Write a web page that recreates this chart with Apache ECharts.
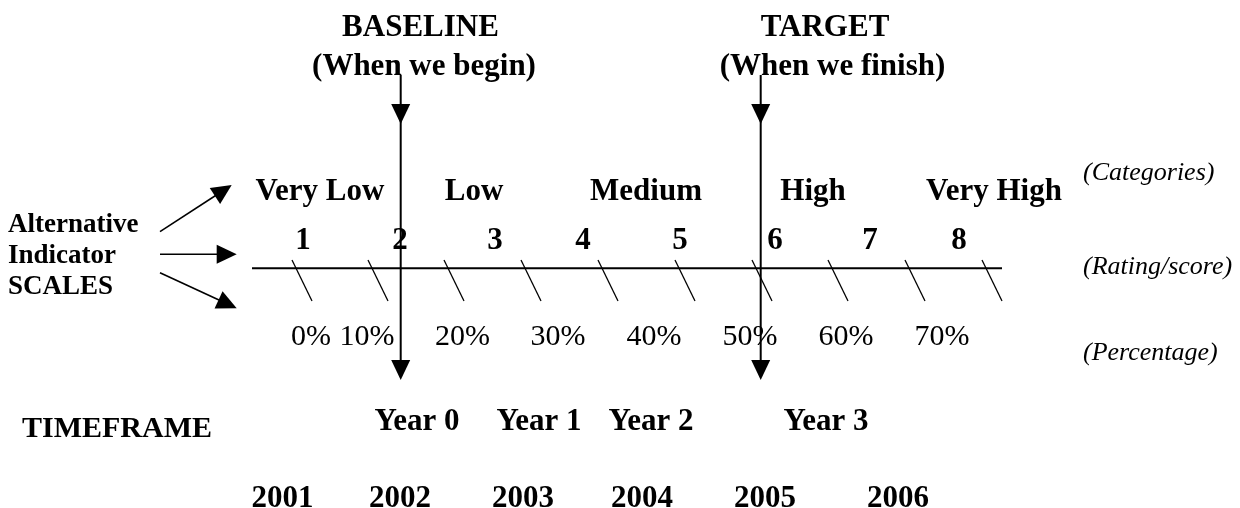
<!DOCTYPE html>
<html><head><meta charset="utf-8">
<script src="https://cdn.jsdelivr.net/npm/echarts@6/dist/echarts.min.js"></script>
<style>html,body{margin:0;padding:0;background:#fff}#c{width:1240px;height:508px}</style>
</head><body><div id="c"></div>
<script>
// ---- content ----
const milestones = ['BASELINE', 'TARGET'];
const milestoneNotes = ['(When we begin)', '(When we finish)'];
const categories = ['Very Low', 'Low', 'Medium', 'High', 'Very High'];
const ratings = ['1', '2', '3', '4', '5', '6', '7', '8'];
const percentages = ['0%', '10%', '20%', '30%', '40%', '50%', '60%', '70%'];
const scaleNames = ['(Categories)', '(Rating/score)', '(Percentage)'];
const sideTitle = ['Alternative', 'Indicator', 'SCALES'];
const timeframeTitle = ['TIMEFRAME'];
const timeframe = ['Year 0', 'Year 1', 'Year 2', 'Year 3'];
const years = ['2001', '2002', '2003', '2004', '2005', '2006'];

// ---- positions on the diagram's x scale ----
const milestoneX = [400.7, 760.7];
const milestoneLabelX = [420.5, 825];
const milestoneNoteX = [424, 832.5];
const categoryX = [320, 474, 646, 813, 994];
const ratingX = [303, 400, 495, 583, 680, 775, 870, 959];
const percentX = [311, 367, 462.5, 558, 654, 750, 846, 942];
const tickX = [292, 368, 444, 521, 598, 675, 752, 828, 905, 982];
const timeframeX = [417, 539, 651, 826];
const yearX = [282.5, 400, 523, 642, 765, 898];

const chart = echarts.init(document.getElementById('c'), null, {renderer: 'canvas'});
const SERIF = "'Liberation Serif','Times New Roman',serif";

function textSeries(labels, xs, baselines, size, weight, style, align) {
  const font = style + ' ' + weight + ' ' + size + 'px ' + SERIF;
  return {
    type: 'custom', coordinateSystem: 'cartesian2d', silent: true, clip: false,
    data: labels.map((t, i) => [xs[i], Array.isArray(baselines) ? baselines[i] : baselines]),
    renderItem: function (params, api) {
      const p = api.coord([api.value(0), api.value(1)]);
      return {
        type: 'text', x: p[0], y: p[1] - 0.32 * size,
        style: {text: labels[params.dataIndex], font: font, fill: '#000', align: align, verticalAlign: 'middle'}
      };
    }
  };
}

function arrowHead(tip, from, len, half) {
  const dx = tip[0] - from[0], dy = tip[1] - from[1];
  const d = Math.sqrt(dx * dx + dy * dy);
  const ux = dx / d, uy = dy / d;
  const bx = tip[0] - ux * len, by = tip[1] - uy * len;
  return {type: 'polygon', shape: {points: [tip, [bx - uy * half, by + ux * half], [bx + uy * half, by - ux * half]]},
    style: {fill: '#000'}};
}

// scale line
const scaleLineSeries = {
  type: 'custom', coordinateSystem: 'cartesian2d', silent: true, clip: false,
  data: [[252, 268.3, 1002, 268.3]],
  renderItem: function (params, api) {
    const a = api.coord([api.value(0), api.value(1)]);
    const b = api.coord([api.value(2), api.value(3)]);
    return {type: 'line', shape: {x1: a[0], y1: a[1], x2: b[0], y2: b[1]}, style: {stroke: '#000', lineWidth: 2}};
  }
};

// slanted ticks
const tickSeries = {
  type: 'custom', coordinateSystem: 'cartesian2d', silent: true, clip: false,
  data: tickX.map(x => [x]),
  renderItem: function (params, api) {
    const a = api.coord([api.value(0), 260]);
    const b = api.coord([api.value(0) + 20, 301]);
    return {type: 'line', shape: {x1: a[0], y1: a[1], x2: b[0], y2: b[1]}, style: {stroke: '#000', lineWidth: 1.3}};
  }
};

// milestone vertical arrows
const milestoneSeries = {
  type: 'custom', coordinateSystem: 'cartesian2d', silent: true, clip: false,
  data: milestoneX.map(x => [x]),
  renderItem: function (params, api) {
    const x = api.value(0);
    const top = api.coord([x, 75]), bottom = api.coord([x, 380]), mid = api.coord([x, 124]);
    return {type: 'group', children: [
      {type: 'line', shape: {x1: top[0], y1: top[1], x2: bottom[0], y2: bottom[1] - 5}, style: {stroke: '#000', lineWidth: 2}},
      arrowHead(mid, top, 20, 9.5),
      arrowHead(bottom, top, 20, 9.5)
    ]};
  }
};

// side arrows
const sideArrowStart = [[160, 231.7], [160, 254.3], [160, 272.7]];
const sideArrowEnd = [[231.7, 185], [236.7, 254.3], [236.7, 308.3]];
const sideArrowSeries = {
  type: 'custom', coordinateSystem: 'cartesian2d', silent: true, clip: false,
  data: sideArrowStart.map((s, i) => [s[0], s[1], sideArrowEnd[i][0], sideArrowEnd[i][1]]),
  renderItem: function (params, api) {
    const a = api.coord([api.value(0), api.value(1)]);
    const b = api.coord([api.value(2), api.value(3)]);
    const dx = b[0] - a[0], dy = b[1] - a[1], d = Math.sqrt(dx * dx + dy * dy);
    const e = [b[0] - dx / d * 10, b[1] - dy / d * 10];
    return {type: 'group', children: [
      {type: 'line', shape: {x1: a[0], y1: a[1], x2: e[0], y2: e[1]}, style: {stroke: '#000', lineWidth: 1.6}},
      arrowHead(b, a, 20, 9.5)
    ]};
  }
};

chart.setOption({
  backgroundColor: '#fff',
  animation: false,
  grid: {left: 0, right: 0, top: 0, bottom: 0},
  xAxis: {type: 'value', min: 0, max: 1240, show: false},
  yAxis: {type: 'value', min: 0, max: 508, inverse: true, show: false},
  series: [
    scaleLineSeries,
    tickSeries,
    milestoneSeries,
    sideArrowSeries,
    textSeries(milestones, milestoneLabelX, 38.3, 31, 'bold', 'normal', 'center'),
    textSeries(milestoneNotes, milestoneNoteX, 76.7, 31, 'bold', 'normal', 'center'),
    textSeries(categories, categoryX, 201.7, 31, 'bold', 'normal', 'center'),
    textSeries(ratings, ratingX, 250.7, 31, 'bold', 'normal', 'center'),
    textSeries(percentages, percentX, 346.7, 30, 'normal', 'normal', 'center'),
    textSeries(scaleNames, [1083, 1083, 1083], [181.7, 275, 361.7], 26, 'normal', 'italic', 'left'),
    textSeries(sideTitle, [8, 8, 8], [233.3, 265, 296], 27, 'bold', 'normal', 'left'),
    textSeries(timeframeTitle, [22], 438.5, 30, 'bold', 'normal', 'left'),
    textSeries(timeframe, timeframeX, 431.7, 31, 'bold', 'normal', 'center'),
    textSeries(years, yearX, 509, 31, 'bold', 'normal', 'center')
  ]
});
</script>
</body></html>
